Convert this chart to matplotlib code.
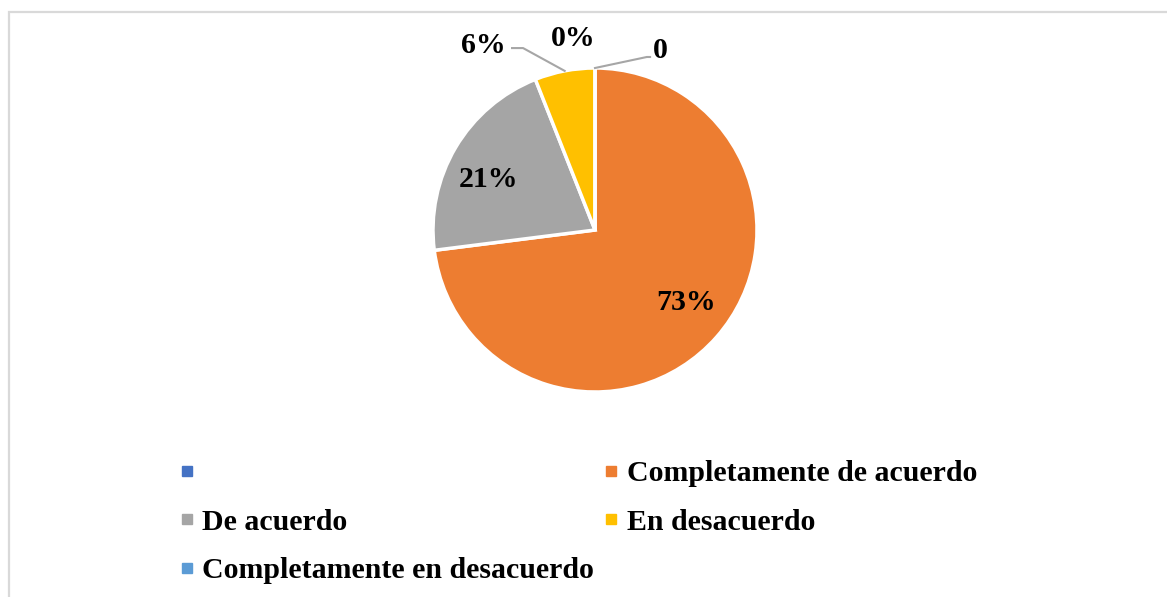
import matplotlib
matplotlib.use("Agg")
import matplotlib.pyplot as plt
import numpy as np
from matplotlib.patches import Rectangle
from matplotlib.lines import Line2D

plt.rcParams['font.family'] = ['Liberation Serif', 'DejaVu Serif']
plt.rcParams['font.weight'] = 'bold'

categories = ["", "Completamente de acuerdo", "De acuerdo", "En desacuerdo",
              "Completamente en desacuerdo"]
values = [0, 73, 21, 6, 0]
label_texts = ["0", "73%", "21%", "6%", "0%"]
colors = ["#4472C4", "#ED7D31", "#A5A5A5", "#FFC000", "#5B9BD5"]

W, H = 1167, 597
fig = plt.figure(figsize=(W / 100, H / 100), dpi=100)
fig.patch.set_facecolor("white")

# outer frame
fig.add_artist(Rectangle((8.5 / W, -0.05), 1.2, 1 - 11.5 / H + 0.05,
                         transform=fig.transFigure, fill=False,
                         edgecolor="#D9D9D9", linewidth=1.6))

cx, cy, R = 595, 230, 162
ax = fig.add_axes([(cx - R) / W, (H - cy - R) / H, 2 * R / W, 2 * R / H])

wedges, _ = ax.pie(values, colors=colors, startangle=90, counterclock=False,
                   radius=1, wedgeprops=dict(edgecolor="white", linewidth=2.5))
ax.set_aspect("auto")
ax.set_xlim(-1, 1)
ax.set_ylim(-1, 1)
ax.axis("off")

total = sum(values)
fs = 21.5
start = 90.0
leader_color = "#A6A6A6"
inner_offsets = {1: (0.02, 0.026), 2: (-0.04, -0.057)}
for i, (v, txt) in enumerate(zip(values, label_texts)):
    span = 360.0 * v / total
    mid = np.deg2rad(start - span / 2)
    start -= span
    if i in (1, 2):
        r = 0.72
        dx, dy = inner_offsets[i]
        ax.text(r * np.cos(mid) + dx, r * np.sin(mid) + dy, txt,
                ha="center", va="center", fontsize=fs, fontweight="bold")
    elif i == 0:
        ex, ey = np.cos(mid), np.sin(mid)
        ax.plot([ex, 0.32, 0.34], [ey, 1.068, 1.068], color=leader_color,
                lw=1.5, clip_on=False)
        ax.text(0.36, 1.105, txt, ha="left", va="center", fontsize=fs,
                fontweight="bold")
    elif i == 3:
        ex, ey = np.cos(mid), np.sin(mid)
        ax.plot([ex, -0.444, -0.512], [ey, 1.123, 1.123], color=leader_color,
                lw=1.5, clip_on=False)
        ax.text(-0.69, 1.137, txt, ha="center", va="center", fontsize=fs,
                fontweight="bold")
    else:
        ax.text(-0.136, 1.18, txt, ha="center", va="center", fontsize=fs,
                fontweight="bold")

# legend, row-major order in two columns
order = [0, 2, 4, 1, 3]
handles = [Line2D([], [], marker="s", linestyle="none", markersize=7.5,
                  markerfacecolor=colors[k], markeredgecolor=colors[k])
           for k in order]
labels = [categories[k] for k in order]
leg = fig.legend(handles, labels, ncol=2, loc="upper left",
                 bbox_to_anchor=(180 / W, 1 - 460 / H), frameon=False,
                 prop=dict(family="Liberation Serif", weight="bold", size=fs),
                 handlelength=0.45, handletextpad=0.3, columnspacing=0.35,
                 labelspacing=0.72, borderpad=0, borderaxespad=0)

fig.savefig("out.png", dpi=100)
